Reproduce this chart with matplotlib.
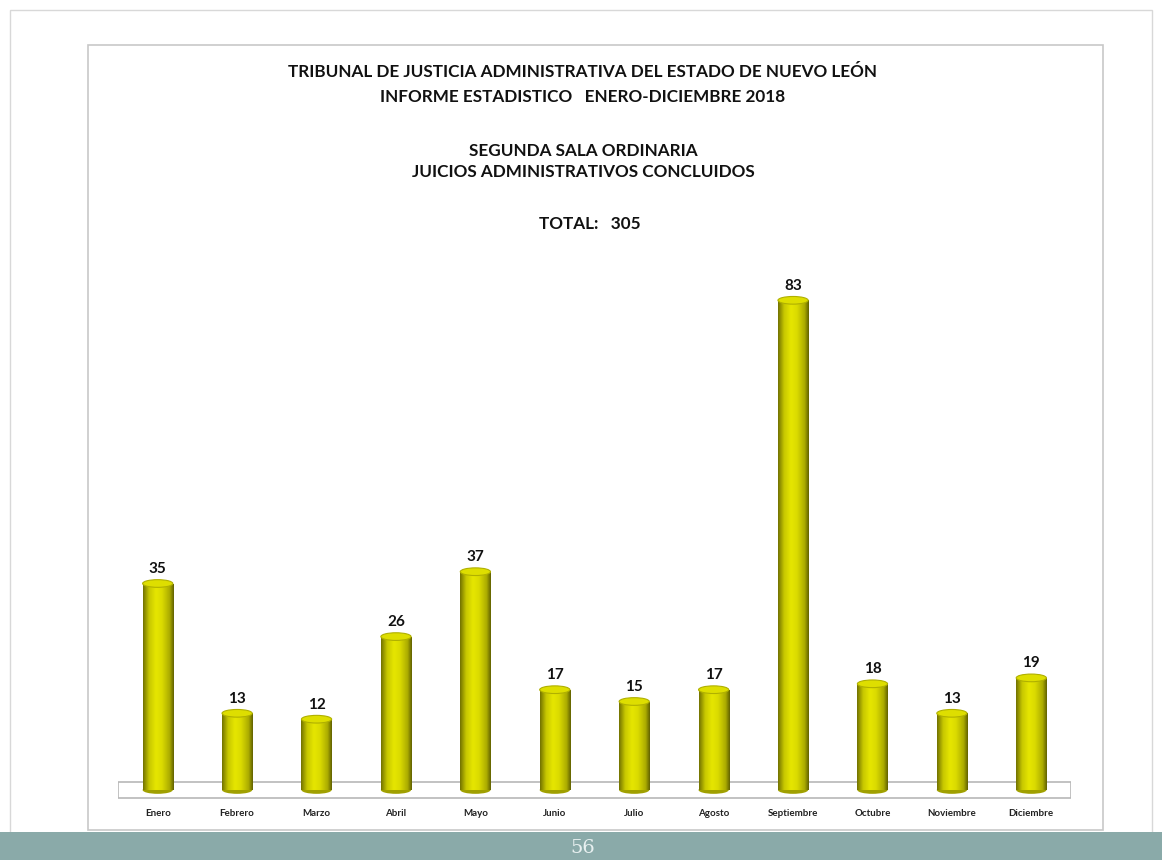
import numpy as np
import matplotlib.pyplot as plt
from matplotlib.patches import Rectangle, Ellipse
from matplotlib.colors import LinearSegmentedColormap

# Data
months = ['Enero', 'Febrero', 'Marzo', 'Abril', 'Mayo', 'Junio', 'Julio',
          'Agosto', 'Septiembre', 'Octubre', 'Noviembre', 'Diciembre']
values = [35, 13, 12, 26, 37, 17, 15, 17, 83, 18, 13, 19]
title_lines = ['TRIBUNAL DE JUSTICIA ADMINISTRATIVA DEL ESTADO DE NUEVO LEÓN',
               'INFORME ESTADISTICO   ENERO-DICIEMBRE 2018']
sub_lines = ['SEGUNDA SALA ORDINARIA', 'JUICIOS ADMINISTRATIVOS CONCLUIDOS']
total_text = 'TOTAL:   305'
page_number = '56'

W, H = 1162, 860
fig = plt.figure(figsize=(W / 100, H / 100), dpi=100)
fig.patch.set_facecolor('white')

def fx(px):
    return px / W

def fy(py):
    return 1 - py / H

# slide background pieces
bg = fig.add_axes([0, 0, 1, 1])
bg.set_xlim(0, W)
bg.set_ylim(H, 0)
bg.axis('off')
bg.add_patch(Rectangle((10, 10), W - 20, 845, facecolor='white', edgecolor='#d8d8d8', lw=1))
bg.add_patch(Rectangle((0, 832), W, 28, facecolor='#8aaaa9', edgecolor='none'))
bg.add_patch(Rectangle((88, 45), 1015, 785, facecolor='white', edgecolor='#c8c8c8', lw=1.2))
bg.text(583, 848, page_number, ha='center', va='center', fontsize=14,
        family='DejaVu Serif', color='#e8f0f0')

font = 'Lato'
title_kw = dict(ha='center', va='center', fontsize=12.3, fontweight='bold',
                family=font, color='#111111')
bg.text(583, 72, title_lines[0], **title_kw)
bg.text(583, 97, title_lines[1], **title_kw)
bg.text(583, 151, sub_lines[0], **title_kw)
bg.text(583, 172, sub_lines[1], **title_kw)
bg.text(590, 224, total_text, **title_kw)

# chart axes
px_per_unit = 5.9
left, right, top, bottom = 118, 1071, 260, 800
ax = fig.add_axes([fx(left), fy(bottom), fx(right - left), (bottom - top) / H])
ax.axis('off')

# floor
ax.add_patch(Rectangle((-0.5, -1.3), len(months), 2.6, facecolor='white',
                       edgecolor='#b8b8b8', lw=1.2, zorder=1))

cmap = LinearSegmentedColormap.from_list('cyl', [
    (0.0, '#727200'), (0.2, '#c8c800'), (0.42, '#e6e600'),
    (0.62, '#dada00'), (0.86, '#acac00'), (1.0, '#626200')])
grad = np.linspace(0, 1, 200).reshape(1, -1)

x = np.arange(len(months))
bw = 0.38
cap_h = 1.3
bars = ax.bar(x, values, width=bw, color='#d0d000', zorder=2)
for xi, v, b in zip(x, values, bars):
    im = ax.imshow(grad, cmap=cmap, aspect='auto', zorder=3,
                   extent=(xi - bw / 2, xi + bw / 2, 0, v))
    im.set_clip_path(b)
    ax.add_patch(Ellipse((xi, 0), bw, cap_h, facecolor='#a0a000',
                         edgecolor='none', zorder=2.5))
    ax.add_patch(Ellipse((xi, v), bw, cap_h, facecolor='#dede00',
                         edgecolor='#b0b000', lw=0.8, zorder=4))
    ax.text(xi, v + 1.3, str(v), ha='center', va='bottom', fontsize=11,
            fontweight='bold', family=font, color='#111111', zorder=5)

ax.set_xlim(-0.5, len(months) - 0.5)
ax.set_ylim(-(bottom - 790) / px_per_unit, (790 - top) / px_per_unit)

for xi, m in zip(x, months):
    ax.text(xi, -(814 - 790) / px_per_unit, m, ha='center', va='center',
            fontsize=7, fontweight='bold', family=font, color='#222222',
            clip_on=False)

fig.savefig('out.png', dpi=100)
